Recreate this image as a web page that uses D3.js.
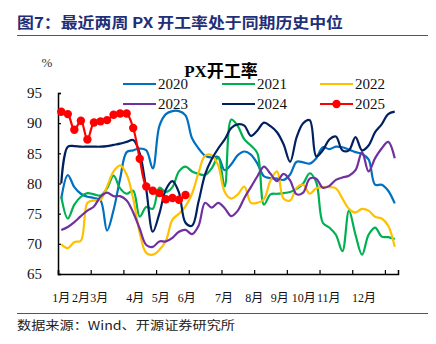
<!DOCTYPE html>
<html><head><meta charset="utf-8">
<script src="https://cdn.jsdelivr.net/npm/d3@7/dist/d3.min.js"></script>
<style>body{margin:0;background:#fff}svg{display:block}</style>
</head><body>
<svg id="c" width="436" height="344"></svg>
<script>
const years = ["2020","2021","2022","2023","2024","2025"];
const colors = ["#0070C0","#00B050","#FFC000","#7030A0","#002060","#FF0000"];
const s2020 = [77.5,81.4,79.4,78.3,77.8,77.6,77.2,72.2,75.6,80.8,85.2,85.5,85.8,85.5,82.5,89.5,91.5,92.0,92.0,91.3,87.5,85.8,84.6,84.3,84.4,82.2,83.2,84.7,85.3,84.8,83.3,81.2,80.9,80.8,80.6,81.5,83.6,83.5,83.3,84.2,86.0,85.7,86.1,86.0,85.6,85.2,84.9,84.0,79.8,79.8,78.8,76.7];
const s2021 = [77.8,74.2,76.5,77.8,78.4,78.2,78.0,79.2,81.3,79.2,78.3,78.8,74.5,76.1,75.8,79.3,78.6,79.4,82.0,82.8,82.0,81.6,81.4,82.5,84.3,79.5,90.6,89.5,87.3,86.3,85.0,76.5,78.2,78.3,78.4,78.6,79.1,80.0,81.7,80.2,73.5,72.7,71.5,68.8,75.5,71.5,68.2,71.5,72.7,71.2,71.1,70.8];
const s2022 = [69.9,69.3,70.3,70.5,76.8,77.2,77.3,79.5,82.0,83.0,81.5,77.5,71.8,68.5,68.2,69.0,70.5,74.0,75.0,76.2,78.3,81.8,84.6,84.7,83.0,78.6,77.5,78.2,79.5,76.8,76.8,77.4,80.5,82.0,77.5,77.2,79.3,79.8,78.3,79.2,79.4,79.4,79.2,77.5,75.8,75.2,75.8,75.5,74.5,74.2,73.0,69.5];
const s2023 = [72.3,72.8,73.6,74.6,75.5,76.2,77.8,78.5,77.9,77.9,77.2,75.2,72.5,69.8,69.5,70.4,70.4,71.0,72.0,72.3,71.6,73.0,76.8,76.0,76.8,75.9,74.6,75.5,77.6,79.4,81.2,82.8,81.6,80.4,81.6,80.5,78.2,78.5,80.8,80.8,79.3,79.6,80.6,81.0,81.3,82.2,85.2,82.0,84.2,85.8,86.9,84.2];
const s2024 = [80.0,86.1,86.2,86.1,86.1,86.1,86.1,86.2,86.4,86.6,86.9,87.2,85.0,79.0,72.0,75.0,79.0,80.4,78.5,73.5,73.0,77.0,81.5,84.0,85.8,87.3,89.2,89.8,89.6,87.9,88.8,90.1,89.5,88.5,86.5,83.6,87.7,90.0,90.5,84.5,85.5,87.3,87.8,85.5,85.5,87.7,85.5,86.3,88.5,89.8,91.5,91.9];
const s2025 = [91.9,91.5,88.9,90.4,87.3,90.1,90.3,90.5,91.4,91.6,91.6,89.2,84.1,79.5,78.8,78.4,77.4,77.6,77.3,78.1];
const seriesValues = [s2020,s2021,s2022,s2023,s2024,s2025];
const yTicks = [65,70,75,80,85,90,95];
const monthLabels = ["1月","2月","3月","4月","5月","6月","7月","8月","9月","10月","11月","12月"];
const monthWeeks = [0,3.0,5.8,11.3,15.2,19.2,24.9,29.5,33.4,37.1,40.9,46.3];
const nWeeks = 52;

const svg = d3.select("#c");
const serif = "'Liberation Serif','Times New Roman','Noto Sans CJK SC',serif";
const cjk = "'Noto Sans CJK SC','Liberation Serif',sans-serif";

// header
svg.append("text").attr("x",17).attr("y",28).attr("fill","#1F2F78")
  .attr("font-family",cjk).attr("font-weight","bold").attr("font-size",15)
  .attr("textLength",326).attr("lengthAdjust","spacingAndGlyphs")
  .text("图7：最近两周 PX 开工率处于同期历史中位");
svg.append("line").attr("x1",17).attr("x2",428).attr("y1",35.5).attr("y2",35.5).attr("stroke","#555").attr("stroke-width",1.2);
svg.append("line").attr("x1",17).attr("x2",428).attr("y1",313.5).attr("y2",313.5).attr("stroke","#555").attr("stroke-width",1.2);
svg.append("text").attr("x",17).attr("y",330).attr("fill","#222")
  .attr("font-family",cjk).attr("font-size",12)
  .attr("textLength",218).attr("lengthAdjust","spacingAndGlyphs")
  .text("数据来源：Wind、开源证券研究所");

const x = d3.scaleLinear().domain([-0.5, nWeeks-0.5]).range([58, 398]);
const y = d3.scaleLinear().domain([65,95]).range([274, 93]);

// y axis
const ya = svg.append("g").attr("transform","translate(58,0)")
  .call(d3.axisLeft(y).tickValues(yTicks).tickSize(-3).tickPadding(16));
ya.select(".domain").attr("stroke","#000").attr("stroke-width",1.5);
ya.selectAll(".tick line").attr("stroke","#000").attr("stroke-width",1.2);
ya.selectAll("text").attr("font-family",serif).attr("font-size",15).attr("fill","#111");
svg.append("text").attr("x",47).attr("y",67).attr("text-anchor","middle")
  .attr("font-family",serif).attr("font-size",13).attr("fill","#333").text("%");

// x axis
const tickVals = d3.range(-0.5, nWeeks-0.5, 5);
const xa = svg.append("g").attr("transform","translate(0,274)")
  .call(d3.axisBottom(x).tickValues(tickVals).tickSize(-4).tickFormat(""));
xa.select(".domain").attr("stroke","#000").attr("stroke-width",1.5);
xa.selectAll(".tick line").attr("stroke","#000").attr("stroke-width",1.2);
svg.append("g").selectAll("text").data(monthLabels).join("text")
  .attr("x",(d,i)=>x(monthWeeks[i])).attr("y",302).attr("text-anchor","middle")
  .attr("font-family",serif).attr("font-size",12).attr("fill","#111")
  .text(d=>d);

// lines
const line = d3.line().x((d,i)=>x(i)).y(d=>y(d)).curve(d3.curveCatmullRom.alpha(0.5));
const g = svg.append("g");
seriesValues.forEach((vals,k)=>{
  g.append("path").datum(vals).attr("d",line).attr("fill","none")
    .attr("stroke",colors[k]).attr("stroke-width",2.2).attr("stroke-linejoin","round");
});
g.append("g").selectAll("circle").data(s2025).join("circle")
  .attr("cx",(d,i)=>x(i)).attr("cy",d=>y(d)).attr("r",4.2).attr("fill","#FF0000");

// chart title
svg.append("text").attr("x",221).attr("y",77).attr("text-anchor","middle")
  .attr("font-family",serif).attr("font-weight","bold").attr("font-size",17).attr("fill","#000")
  .text("PX开工率");

// legend
const legX = [123,222,320], legY = [84,104];
years.forEach((yr,k)=>{
  const lx = legX[k%3], ly = legY[Math.floor(k/3)];
  svg.append("line").attr("x1",lx).attr("x2",lx+33).attr("y1",ly).attr("y2",ly)
    .attr("stroke",colors[k]).attr("stroke-width",2.2);
  if (yr==="2025") svg.append("circle").attr("cx",lx+16.5).attr("cy",ly).attr("r",4.2).attr("fill",colors[k]);
  svg.append("text").attr("x",lx+35).attr("y",ly+5).attr("font-family",serif).attr("font-size",15)
    .attr("fill","#111").text(yr);
});
</script>
</body></html>
